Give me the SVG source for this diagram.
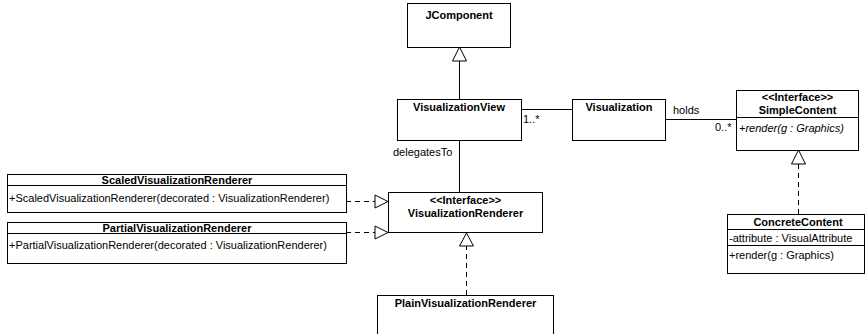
<svg xmlns="http://www.w3.org/2000/svg" width="868" height="334" viewBox="0 0 868 334">
<style>
.box{fill:#fff;stroke:#000;stroke-width:1}
.ln{stroke:#000;stroke-width:1;fill:none}
.dash{stroke:#000;stroke-width:1;fill:none;stroke-dasharray:5 4}
.tri{fill:#fff;stroke:#000;stroke-width:1}
text{font-family:"Liberation Sans",Arial,sans-serif;font-size:11px;fill:#000}
.b{font-weight:bold}
.c{text-anchor:middle}
.i{font-style:italic}
</style>
<rect width="868" height="334" fill="#fff"/>
<g id="connectors">
<line class="ln" x1="459.5" y1="99" x2="459.5" y2="61"/>
<polygon class="tri" points="459.5,47 452.5,61 466.5,61"/>
<line class="ln" x1="521" y1="109.5" x2="572" y2="109.5"/>
<text x="523" y="123">1..*</text>
<line class="ln" x1="665" y1="119.5" x2="736" y2="119.5"/>
<text x="673" y="114">holds</text>
<text x="715" y="131">0..*</text>
<line class="ln" x1="459.5" y1="140" x2="459.5" y2="192"/>
<text x="393" y="156">delegatesTo</text>
<line class="dash" x1="346" y1="201.5" x2="375" y2="201.5"/>
<polygon class="tri" points="388,201.5 375,195 375,208"/>
<line class="dash" x1="346" y1="232.5" x2="375" y2="232.5"/>
<polygon class="tri" points="388,232.5 375,226 375,239"/>
<line class="dash" x1="466.5" y1="295" x2="466.5" y2="246"/>
<polygon class="tri" points="466.5,233 459.5,246 473.5,246"/>
<line class="dash" x1="798.5" y1="214" x2="798.5" y2="164"/>
<polygon class="tri" points="798.5,150 791.5,164 805.5,164"/>
</g>
<g id="JComponent">
<rect class="box" x="407.5" y="3.5" width="103" height="44"/>
<text class="b c" x="459" y="19">JComponent</text>
</g>
<g id="VisualizationView">
<rect class="box" x="397.5" y="99.5" width="124" height="41"/>
<text class="b c" x="459" y="111">VisualizationView</text>
</g>
<g id="Visualization">
<rect class="box" x="572.5" y="99.5" width="93" height="41"/>
<text class="b c" x="619" y="111">Visualization</text>
</g>
<g id="SimpleContent">
<rect class="box" x="736.5" y="90.5" width="122" height="60"/>
<line class="ln" x1="736.5" y1="117.5" x2="858.5" y2="117.5"/>
<text class="b c" x="797.5" y="101">&lt;&lt;Interface&gt;&gt;</text>
<text class="b c" x="797.5" y="114">SimpleContent</text>
<text class="i" x="739" y="132">+render(g : Graphics)</text>
</g>
<g id="ConcreteContent">
<rect class="box" x="727.5" y="214.5" width="137" height="59"/>
<line class="ln" x1="727.5" y1="229.5" x2="864.5" y2="229.5"/>
<line class="ln" x1="727.5" y1="245.5" x2="864.5" y2="245.5"/>
<text class="b c" x="798" y="226">ConcreteContent</text>
<text x="729" y="242">-attribute : VisualAttribute</text>
<text x="729" y="259">+render(g : Graphics)</text>
</g>
<g id="VisualizationRenderer">
<rect class="box" x="388.5" y="192.5" width="154" height="40"/>
<text class="b c" x="465.5" y="204">&lt;&lt;Interface&gt;&gt;</text>
<text class="b c" x="465.5" y="217">VisualizationRenderer</text>
</g>
<g id="ScaledVisualizationRenderer">
<rect class="box" x="7.5" y="174.5" width="339" height="38"/>
<line class="ln" x1="7.5" y1="185.5" x2="346.5" y2="185.5"/>
<text class="b c" x="177" y="184">ScaledVisualizationRenderer</text>
<text x="9" y="202">+ScaledVisualizationRenderer(decorated : VisualizationRenderer)</text>
</g>
<g id="PartialVisualizationRenderer">
<rect class="box" x="7.5" y="222.5" width="339" height="41"/>
<line class="ln" x1="7.5" y1="233.5" x2="346.5" y2="233.5"/>
<text class="b c" x="177" y="232">PartialVisualizationRenderer</text>
<text x="9" y="249">+PartialVisualizationRenderer(decorated : VisualizationRenderer)</text>
</g>
<g id="PlainVisualizationRenderer">
<rect class="box" x="377.5" y="295.5" width="176" height="50"/>
<text class="b c" x="465.5" y="307">PlainVisualizationRenderer</text>
</g>
</svg>
